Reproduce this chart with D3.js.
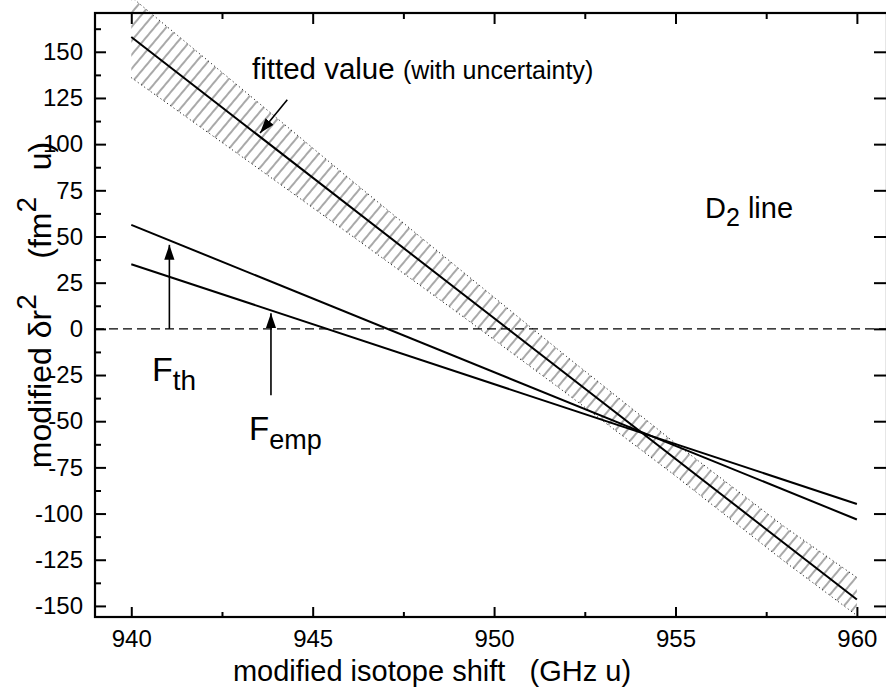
<!DOCTYPE html>
<html>
<head>
<meta charset="utf-8">
<script src="https://cdn.jsdelivr.net/npm/d3@7"></script>
<style>
  html, body { margin: 0; padding: 0; background: #fff; }
  svg { display: block; }
  text { font-family: "Liberation Sans", Arial, Helvetica, sans-serif; fill: #000; }
</style>
</head>
<body>
<svg id="chart" width="886" height="693"></svg>
<script>
// ---- data ----
const lineX = [940, 960];
const fittedY = [158, -146.5];
const fthY = [56.3, -103.2];
const fempY = [35, -94.8];

const bandX     = [940, 943, 946, 949, 952, 955, 958, 960];
const bandUpper = [179.7, 130.7, 81.5, 33.1, -15, -62, -107.1, -134.6];
const bandLower = [136, 93.9, 51.5, 8.7, -35, -79.6, -125.9, -155.2];

const xMajorTicks = [940, 945, 950, 955, 960];
const xMinorTicks = [942.5, 947.5, 952.5, 957.5];
const yMajorTicks = [-150, -125, -100, -75, -50, -25, 0, 25, 50, 75, 100, 125, 150];
const yMinorTicks = [-137.5, -112.5, -87.5, -62.5, -37.5, -12.5, 12.5, 37.5, 62.5, 87.5, 112.5, 137.5, 162.5];

// ---- layout ----
const svg = d3.select("#chart");
const L = 95, R = 887, T = 13, B = 617;
const x = d3.scaleLinear().domain([939, 960.83]).range([L, R]);
const y = d3.scaleLinear().domain([-156, 171]).range([B, T]);
const fmt = d => String(d); // plain hyphen-minus like the reference

const defs = svg.append("defs");
const pat = defs.append("pattern")
  .attr("id", "hatch").attr("patternUnits", "userSpaceOnUse")
  .attr("width", 9).attr("height", 10)
  .attr("patternTransform", "rotate(40)");
pat.append("line").attr("x1", 1).attr("y1", 0).attr("x2", 1).attr("y2", 10)
  .attr("stroke", "#8c8c8c").attr("stroke-width", 1.5);

const marker = defs.append("marker")
  .attr("id", "arrow").attr("viewBox", "0 0 10 10")
  .attr("refX", 10).attr("refY", 5)
  .attr("markerWidth", 15).attr("markerHeight", 15)
  .attr("markerUnits", "userSpaceOnUse")
  .attr("orient", "auto");
marker.append("path").attr("d", "M0,1.6 L10,5 L0,8.4 Z").attr("fill", "#000");

// band
const bandData = bandX.map((v, i) => ({x: v, u: bandUpper[i], l: bandLower[i]}));
svg.append("path").datum(bandData)
  .attr("d", d3.area().x(d => x(d.x)).y0(d => y(d.l)).y1(d => y(d.u)))
  .attr("fill", "url(#hatch)");
const bl = d3.line().x(d => x(d[0])).y(d => y(d[1]));
svg.append("path").datum(bandData.map(d => [d.x, d.u])).attr("d", bl)
  .attr("fill", "none").attr("stroke", "#000").attr("stroke-width", 1).attr("stroke-dasharray", "1,3");
svg.append("path").datum(bandData.map(d => [d.x, d.l])).attr("d", bl)
  .attr("fill", "none").attr("stroke", "#000").attr("stroke-width", 1).attr("stroke-dasharray", "1,3");

// zero dashed line
svg.append("line").attr("x1", L).attr("x2", R).attr("y1", y(0)).attr("y2", y(0))
  .attr("stroke", "#000").attr("stroke-width", 1.3).attr("stroke-dasharray", "9,5");

// lines
[fittedY, fthY, fempY].forEach(ys => {
  svg.append("path").datum(lineX.map((v, i) => [v, ys[i]])).attr("d", bl)
    .attr("fill", "none").attr("stroke", "#000").attr("stroke-width", 2);
});

// axes
function styleAxis(g) {
  g.select(".domain").remove();
  g.selectAll(".tick line").attr("stroke", "#000").attr("stroke-width", 2);
  g.selectAll(".tick text").attr("font-size", 24).attr("fill", "#000")
    .attr("font-family", "Liberation Sans, Arial, sans-serif");
}
svg.append("g").attr("transform", `translate(0,${B})`)
  .call(d3.axisBottom(x).tickValues(xMajorTicks).tickSize(-10).tickPadding(13).tickFormat(fmt))
  .call(styleAxis);
svg.append("g").attr("transform", `translate(0,${B})`)
  .call(d3.axisBottom(x).tickValues(xMinorTicks).tickSize(-5).tickFormat(""))
  .call(styleAxis);
svg.append("g").attr("transform", `translate(0,${T})`)
  .call(d3.axisTop(x).tickValues(xMajorTicks).tickSize(-11).tickFormat(""))
  .call(styleAxis);
svg.append("g").attr("transform", `translate(0,${T})`)
  .call(d3.axisTop(x).tickValues(xMinorTicks).tickSize(-6).tickFormat(""))
  .call(styleAxis);
svg.append("g").attr("transform", `translate(${L},0)`)
  .call(d3.axisLeft(y).tickValues(yMajorTicks).tickSize(-11).tickPadding(12).tickFormat(fmt))
  .call(styleAxis);
svg.append("g").attr("transform", `translate(${L},0)`)
  .call(d3.axisLeft(y).tickValues(yMinorTicks).tickSize(-6).tickFormat(""))
  .call(styleAxis);
svg.append("g").attr("transform", `translate(${R},0)`)
  .call(d3.axisRight(y).tickValues(yMajorTicks).tickSize(-13).tickFormat(""))
  .call(styleAxis);

// frame
svg.append("rect").attr("x", L).attr("y", T).attr("width", R - L).attr("height", B - T)
  .attr("fill", "none").attr("stroke", "#000").attr("stroke-width", 2.2);

// axis titles
svg.append("text").attr("x", 432).attr("y", 681).attr("text-anchor", "middle")
  .attr("font-size", 29).attr("xml:space", "preserve")
  .text("modified isotope shift   (GHz u)");
const yt = svg.append("text").attr("transform", "translate(51,305) rotate(-90)")
  .attr("text-anchor", "middle").attr("font-size", 32).attr("xml:space", "preserve");
yt.append("tspan").text("modified δr");
yt.append("tspan").attr("dy", -15).attr("font-size", 28).text("2");
yt.append("tspan").attr("dy", 15).text("    (fm");
yt.append("tspan").attr("dy", -15).attr("font-size", 28).text("2");
yt.append("tspan").attr("dy", 15).text("   u)");

// annotations
const ft = svg.append("text").attr("x", 252).attr("y", 79).attr("xml:space", "preserve");
ft.append("tspan").attr("font-size", 29.5).text("fitted value ");
ft.append("tspan").attr("font-size", 25).text("(with uncertainty)");

const d2 = svg.append("text").attr("x", 705).attr("y", 218).attr("font-size", 29);
d2.append("tspan").text("D");
d2.append("tspan").attr("dy", 8).attr("font-size", 25).text("2");
d2.append("tspan").attr("dy", -8).text(" line");

const fth = svg.append("text").attr("x", 152).attr("y", 381).attr("font-size", 34);
fth.append("tspan").text("F");
fth.append("tspan").attr("dy", 9).attr("font-size", 28).text("th");

const femp = svg.append("text").attr("x", 249).attr("y", 440).attr("font-size", 33);
femp.append("tspan").text("F");
femp.append("tspan").attr("dy", 9).attr("font-size", 27).text("emp");

// arrows (data coordinates)
const arrows = [
  {x1: 941.05, y1: 0, x2: 941.05, y2: 45.5},
  {x1: 943.85, y1: -36, x2: 943.85, y2: 8.5},
  {x1: 944.3, y1: 124, x2: 943.55, y2: 106}
];
arrows.forEach(a => {
  svg.append("line").attr("x1", x(a.x1)).attr("y1", y(a.y1)).attr("x2", x(a.x2)).attr("y2", y(a.y2))
    .attr("stroke", "#000").attr("stroke-width", 1.6).attr("marker-end", "url(#arrow)");
});
</script>
</body>
</html>
